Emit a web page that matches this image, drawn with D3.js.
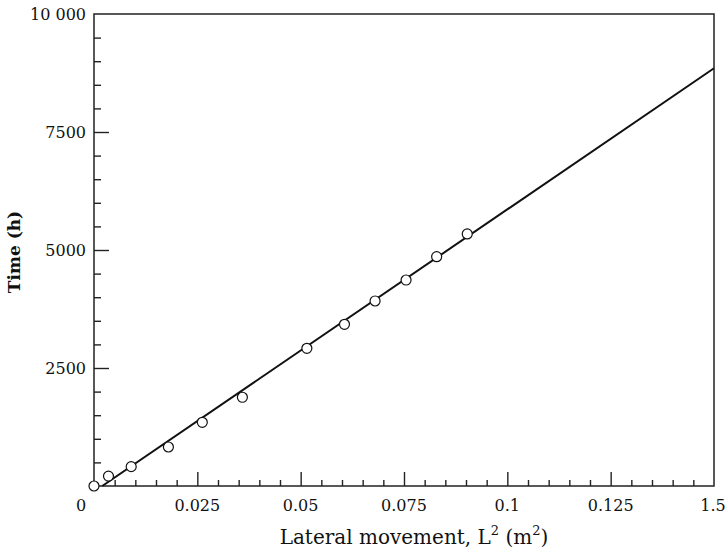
<!DOCTYPE html>
<html>
<head>
<meta charset="utf-8">
<script src="https://cdn.jsdelivr.net/npm/d3@7"></script>
<style>
  body { margin: 0; background: #fff; }
  text { font-family: "DejaVu Serif", serif; fill: #111; }
</style>
</head>
<body>
<div id="main"></div>
<script>
// measured points: L^2 (m^2) vs time (h)
var lateral = [0, 0.0035, 0.009, 0.018, 0.0262, 0.0359, 0.0515, 0.0606, 0.068, 0.0755, 0.0829, 0.0903];
var hours = [0, 210, 410, 826, 1350, 1880, 2917, 3426, 3920, 4364, 4858, 5340];
// fitted line end points
var fitX = [0.002, 0.15];
var fitY = [0, 8850];
var xTicks = [0, 0.025, 0.05, 0.075, 0.1, 0.125, 0.15];
var xTickLabels = ["0", "0.025", "0.05", "0.075", "0.1", "0.125", "1.5"];
var yTicks = [2500, 5000, 7500, 10000];
var yTickLabels = ["2500", "5000", "7500", "10 000"];

var ctx = {
    w: 728,
    h: 553,
    left: 94,
    right: 714,
    top: 14,
    bottom: 486,
};

var createViz = function(){
    var svg = d3.select("#main").append("svg")
        .attr("width", ctx.w)
        .attr("height", ctx.h);

    var x = d3.scaleLinear().domain([0, 0.15]).range([ctx.left, ctx.right]);
    var y = d3.scaleLinear().domain([0, 10000]).range([ctx.bottom, ctx.top]);

    // frame
    svg.append("rect")
        .attr("x", ctx.left).attr("y", ctx.top)
        .attr("width", ctx.right - ctx.left)
        .attr("height", ctx.bottom - ctx.top)
        .style("fill", "none").style("stroke", "#222").style("stroke-width", 1.5);

    // minor + major ticks, pointing inward
    var xMinor = d3.range(1, 30).map(function(i){ return i*0.005; })
        .filter(function(v, i){ return (i+1) % 5 != 0; });
    var yMinor = d3.range(500, 10000, 500).filter(function(v){ return v % 2500 != 0; });
    svg.append("g")
        .attr("transform", "translate(0," + ctx.bottom + ")")
        .call(d3.axisTop(x).tickValues(xMinor).tickSize(6).tickFormat(""));
    svg.append("g")
        .attr("transform", "translate(0," + ctx.bottom + ")")
        .call(d3.axisTop(x).tickValues(xTicks.slice(1, -1)).tickSize(14).tickFormat(""));
    svg.append("g")
        .attr("transform", "translate(" + ctx.left + ",0)")
        .call(d3.axisRight(y).tickValues(yMinor).tickSize(7).tickFormat(""));
    svg.append("g")
        .attr("transform", "translate(" + ctx.left + ",0)")
        .call(d3.axisRight(y).tickValues(yTicks.slice(0, -1)).tickSize(15).tickFormat(""));
    svg.selectAll(".domain").remove();
    svg.selectAll(".tick line").style("stroke", "#222").style("stroke-width", 1.4);

    // tick labels
    svg.append("g").selectAll("text")
        .data(xTicks)
        .enter().append("text")
        .attr("x", function(d, i){
            if (i == 0) return x(d) - 13;
            if (i == xTicks.length - 1) return x(d) - 1;
            return x(d);
        })
        .attr("y", ctx.bottom + 25)
        .style("text-anchor", "middle")
        .style("font-size", "16px")
        .text(function(d, i){ return xTickLabels[i]; });
    svg.append("g").selectAll("text")
        .data(yTicks)
        .enter().append("text")
        .attr("x", ctx.left - 8)
        .attr("y", function(d){ return y(d) + 6; })
        .style("text-anchor", "end")
        .style("font-size", "16px")
        .text(function(d, i){ return yTickLabels[i]; });

    // fitted line
    var line = d3.line()
        .x(function(d){ return x(d[0]); })
        .y(function(d){ return y(d[1]); });
    svg.append("path")
        .datum(d3.zip(fitX, fitY))
        .attr("d", line)
        .style("fill", "none").style("stroke", "#111").style("stroke-width", 2);

    // points
    svg.append("g").selectAll("circle")
        .data(d3.zip(lateral, hours))
        .enter().append("circle")
        .attr("cx", function(d){ return x(d[0]); })
        .attr("cy", function(d){ return y(d[1]); })
        .attr("r", 5)
        .style("fill", "#fff").style("stroke", "#111").style("stroke-width", 1.2);

    // axis labels
    var xl = svg.append("text")
        .attr("x", 414)
        .attr("y", 544)
        .style("text-anchor", "middle")
        .style("font-size", "20px");
    xl.append("tspan").text("Lateral movement, L");
    xl.append("tspan").attr("dy", -9).style("font-size", "13px").text("2");
    xl.append("tspan").attr("dy", 9).text(" (m");
    xl.append("tspan").attr("dy", -9).style("font-size", "13px").text("2");
    xl.append("tspan").attr("dy", 9).text(")");

    svg.append("text")
        .attr("transform", "translate(20,252) rotate(-90)")
        .style("text-anchor", "middle")
        .style("font-size", "17px")
        .style("font-weight", "bold")
        .text("Time (h)");
};

createViz();
</script>
</body>
</html>
